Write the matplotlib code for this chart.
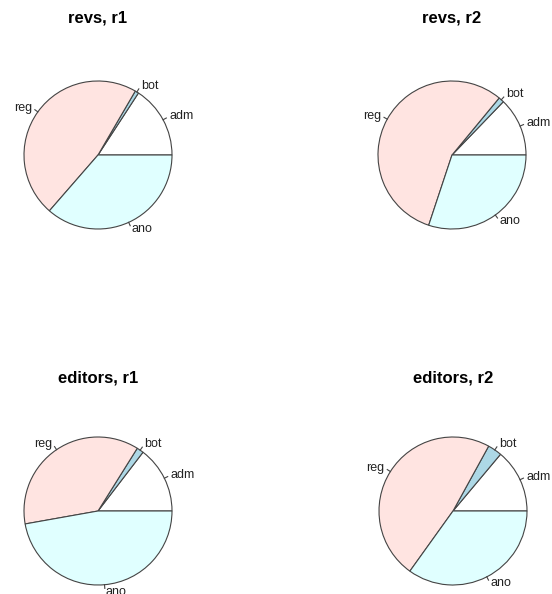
import numpy as np
import matplotlib.pyplot as plt

plt.rcParams['font.family'] = ['Liberation Sans', 'DejaVu Sans']

labels = ['adm', 'bot', 'reg', 'ano']
colors = ['white', '#add8e6', '#ffe4e1', '#e0ffff']

titles = ['revs, r1', 'revs, r2', 'editors, r1', 'editors, r2']
# shares (adm, bot, reg, ano)
revs_r1 = [0.158, 0.008, 0.470, 0.364]
revs_r2 = [0.128, 0.012, 0.559, 0.301]
editors_r1 = [0.146, 0.015, 0.367, 0.472]
editors_r2 = [0.139, 0.031, 0.481, 0.349]
shares = [revs_r1, revs_r2, editors_r1, editors_r2]

W, H = 552, 594
fig = plt.figure(figsize=(W / 100, H / 100), dpi=100)

# pie centres and title heights in pixels (from the top)
centres = [(98, 155), (452, 155), (98, 511), (453, 511)]
title_y = [18, 18, 378, 378]
R = 74
box = 200

for vals, ttl, (cx, cy), ty in zip(shares, titles, centres, title_y):
    ax = fig.add_axes([(cx - box / 2) / W, 1 - (cy + box / 2) / H, box / W, box / H])
    wedges, texts = ax.pie(vals, labels=labels, colors=colors, startangle=0,
                           counterclock=True, radius=1, labeldistance=1.1,
                           wedgeprops=dict(edgecolor='#444444', linewidth=0.8),
                           textprops=dict(fontsize=9, color='#222222'))
    for w in wedges:
        a = np.deg2rad((w.theta1 + w.theta2) / 2)
        ax.plot([np.cos(a), 1.05 * np.cos(a)], [np.sin(a), 1.05 * np.sin(a)],
                color='#444444', lw=0.8, clip_on=False)
    for t in texts:
        t.set_clip_on(False)
    lim = box / 2 / R
    ax.set_xlim(-lim, lim)
    ax.set_ylim(-lim, lim)
    ax.axis('off')
    fig.text(cx / W, 1 - ty / H, ttl, ha='center', va='center',
             fontsize=12, fontweight='bold')

fig.savefig('out.png', dpi=100)
